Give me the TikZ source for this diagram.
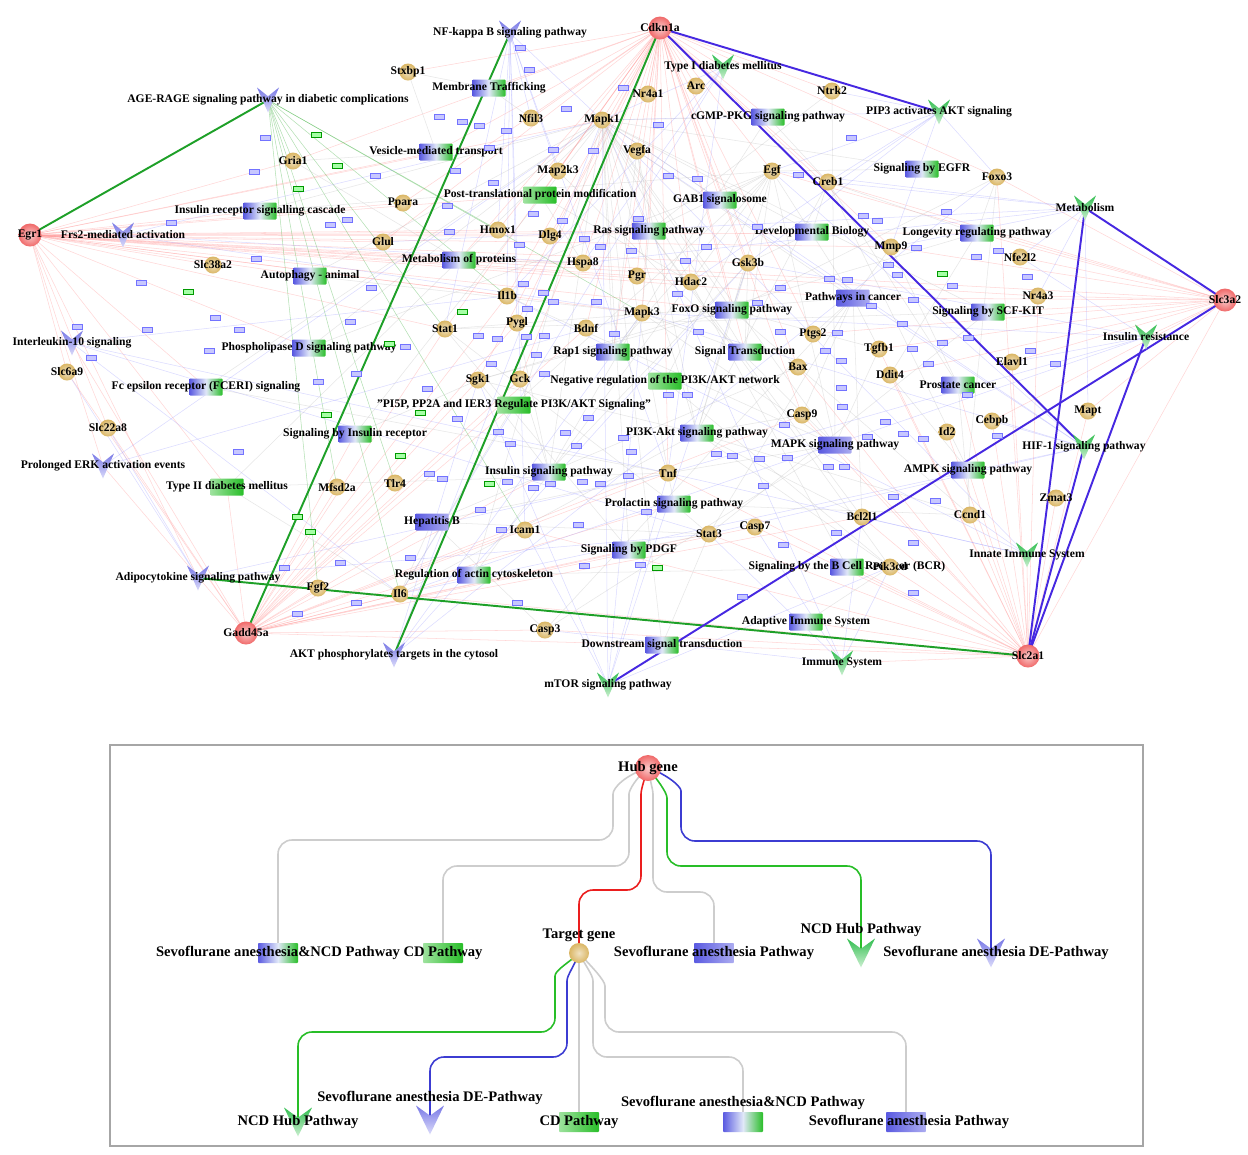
\documentclass[tikz,border=0pt]{standalone}
\usepackage{fontspec}
\setmainfont{Liberation Serif}
\usetikzlibrary{calc,backgrounds}
\definecolor{hubred}{RGB}{240,105,105}
\definecolor{tgold}{RGB}{218,182,100}
\definecolor{pblue}{RGB}{90,90,225}
\definecolor{pmid}{RGB}{225,232,248}
\definecolor{pgreen}{RGB}{40,190,40}
\definecolor{vgtop}{RGB}{50,190,80}
\definecolor{vgbot}{RGB}{205,240,210}
\definecolor{vbtop}{RGB}{120,120,230}
\definecolor{vbbot}{RGB}{220,220,250}
\definecolor{boldgreen}{RGB}{30,160,40}
\definecolor{boldblue}{RGB}{70,40,225}
\definecolor{leggray}{RGB}{205,205,205}
\definecolor{legred}{RGB}{235,30,30}
\definecolor{leggreen}{RGB}{40,190,40}
\definecolor{legblue}{RGB}{60,60,210}
\tikzset{
hub/.style={circle, inner sep=0pt, minimum size=4.6mm, inner color=hubred!35!white, outer color=hubred},
gene/.style={circle, inner sep=0pt, minimum size=3.4mm, inner color=tgold!40!white, outer color=tgold},
pbox/.style={rectangle, rounded corners=0.5pt, inner sep=0pt, minimum width=6.6mm, minimum height=3.4mm},
pbg/.style={pbox, left color=pblue, right color=pgreen, middle color=pmid},
pg/.style={pbox, left color=pgreen!45!white, right color=pgreen},
pb/.style={pbox, left color=pblue, right color=pblue!50!white},
vnode/.style 2 args={rectangle, inner sep=0pt, minimum width=4.4mm, minimum height=5mm,
  path picture={\shade[top color=#1, bottom color=#2]
    (path picture bounding box.north west)
    -- ($(path picture bounding box.north)!0.35!(path picture bounding box.south)$)
    -- (path picture bounding box.north east)
    -- (path picture bounding box.south) -- cycle;}},
vg/.style={vnode={vgtop}{vgbot}},
vb/.style={vnode={vbtop}{vbbot}},
tinyb/.style={rectangle, inner sep=0pt, minimum width=2mm, minimum height=1.1mm, fill=blue!22, draw=blue!55, line width=0.3pt},
tinyg/.style={rectangle, inner sep=0pt, minimum width=2mm, minimum height=1.1mm, fill=green!35, draw=green!60!black, line width=0.3pt},
lbl/.style={font=\bfseries\fontsize{6.6}{7}\selectfont, inner sep=0pt, text=black},
leglbl/.style={font=\bfseries\fontsize{8.3}{9}\selectfont, inner sep=0pt, text=black},
fr/.style={draw=red!40, line width=0.3pt, opacity=0.4},
fb/.style={draw=blue!40, line width=0.3pt, opacity=0.35},
fgy/.style={draw=gray!55, line width=0.3pt, opacity=0.35},
fgr/.style={draw=green!60!black, line width=0.3pt, opacity=0.3},
bgreen/.style={draw=boldgreen, line width=1.1pt},
bblue/.style={draw=boldblue, line width=1.1pt},
lgline/.style={line width=0.9pt, rounded corners=2.8mm},
}
\pgfdeclarelayer{background}
\pgfsetlayers{background,main}

\begin{document}
\begin{tikzpicture}[x=0.2mm, y=-0.2mm]
\begin{pgfonlayer}{background}
\fill[white] (0,0) rectangle (1248,1154);
\end{pgfonlayer}
\useasboundingbox (0,0) rectangle (1248,1154);

% hub genes
\node[hub, label={[lbl]center:Cdkn1a}] (cdkn1a) at (660,28) {};
\node[hub, label={[lbl]center:Egr1}] (egr1) at (30,235) {};
\node[hub, label={[lbl]center:Slc3a2}] (slc3a2) at (1225,300) {};
\node[hub, label={[lbl]center:Slc2a1}] (slc2a1) at (1028,656) {};
\node[hub, label={[lbl]center:Gadd45a}] (gadd45a) at (246,633) {};

% target genes
\node[gene, label={[lbl]center:Stxbp1}] (stxbp1) at (408,72) {};
\node[gene, label={[lbl]center:Gria1}] (gria1) at (293,161) {};
\node[gene, label={[lbl]center:Ppara}] (ppara) at (403,203) {};
\node[gene, label={[lbl]center:Glul}] (glul) at (383,242) {};
\node[gene, label={[lbl]center:Slc38a2}] (slc38a2) at (213,265) {};
\node[gene, label={[lbl]center:Nr4a1}] (nr4a1) at (648,94) {};
\node[gene, label={[lbl]center:Arc}] (arc) at (696,86) {};
\node[gene, label={[lbl]center:Nfil3}] (nfil3) at (531,118) {};
\node[gene, label={[lbl]center:Mapk1}] (mapk1) at (602,120) {};
\node[gene, label={[lbl]center:Vegfa}] (vegfa) at (637,151) {};
\node[gene, label={[lbl]center:Map2k3}] (map2k3) at (558,171) {};
\node[gene, label={[lbl]center:Egf}] (egf) at (772,171) {};
\node[gene, label={[lbl]center:Hmox1}] (hmox1) at (498,230) {};
\node[gene, label={[lbl]center:Dlg4}] (dlg4) at (550,236) {};
\node[gene, label={[lbl]center:Hspa8}] (hspa8) at (583,263) {};
\node[gene, label={[lbl]center:Pgr}] (pgr) at (637,276) {};
\node[gene, label={[lbl]center:Hdac2}] (hdac2) at (691,282) {};
\node[gene, label={[lbl]center:Gsk3b}] (gsk3b) at (748,263) {};
\node[gene, label={[lbl]center:Il1b}] (il1b) at (507,296) {};
\node[gene, label={[lbl]center:Mapk3}] (mapk3) at (642,313) {};
\node[gene, label={[lbl]center:Stat1}] (stat1) at (445,329) {};
\node[gene, label={[lbl]center:Pygl}] (pygl) at (517,323) {};
\node[gene, label={[lbl]center:Bdnf}] (bdnf) at (586,328) {};
\node[gene, label={[lbl]center:Ptgs2}] (ptgs2) at (813,334) {};
\node[gene, label={[lbl]center:Ntrk2}] (ntrk2) at (832,91) {};
\node[gene, label={[lbl]center:Foxo3}] (foxo3) at (997,177) {};
\node[gene, label={[lbl]center:Creb1}] (creb1) at (828,182) {};
\node[gene, label={[lbl]center:Mmp9}] (mmp9) at (891,247) {};
\node[gene, label={[lbl]center:Nfe2l2}] (nfe2l2) at (1020,257) {};
\node[gene, label={[lbl]center:Nr4a3}] (nr4a3) at (1038,296) {};
\node[gene, label={[lbl]center:Tgfb1}] (tgfb1) at (879,349) {};
\node[gene, label={[lbl]center:Elavl1}] (elavl1) at (1012,362) {};
\node[gene, label={[lbl]center:Slc6a9}] (slc6a9) at (67,372) {};
\node[gene, label={[lbl]center:Slc22a8}] (slc22a8) at (108,428) {};
\node[gene, label={[lbl]center:Mfsd2a}] (mfsd2a) at (337,487) {};
\node[gene, label={[lbl]center:Tlr4}] (tlr4) at (395,483) {};
\node[gene, label={[lbl]center:Fgf2}] (fgf2) at (318,588) {};
\node[gene, label={[lbl]center:Il6}] (il6) at (400,594) {};
\node[gene, label={[lbl]center:Sgk1}] (sgk1) at (478,380) {};
\node[gene, label={[lbl]center:Gck}] (gck) at (520,379) {};
\node[gene, label={[lbl]center:Bax}] (bax) at (798,367) {};
\node[gene, label={[lbl]center:Casp9}] (casp9) at (802,415) {};
\node[gene, label={[lbl]center:Tnf}] (tnf) at (668,473) {};
\node[gene, label={[lbl]center:Icam1}] (icam1) at (525,530) {};
\node[gene, label={[lbl]center:Stat3}] (stat3) at (709,534) {};
\node[gene, label={[lbl]center:Casp7}] (casp7) at (755,527) {};
\node[gene, label={[lbl]center:Casp3}] (casp3) at (545,630) {};
\node[gene, label={[lbl]center:Ddit4}] (ddit4) at (890,375) {};
\node[gene, label={[lbl]center:Mapt}] (mapt) at (1088,411) {};
\node[gene, label={[lbl]center:Cebpb}] (cebpb) at (992,421) {};
\node[gene, label={[lbl]center:Id2}] (id2) at (947,432) {};
\node[gene, label={[lbl]center:Zmat3}] (zmat3) at (1056,498) {};
\node[gene, label={[lbl]center:Bcl2l1}] (bcl2l1) at (862,517) {};
\node[gene, label={[lbl]center:Ccnd1}] (ccnd1) at (970,515) {};

% pathways
\node[pbg, label={[lbl]center:Membrane Trafficking}] (membtraf) at (489,88) {};
\node[pbg, label={[lbl]center:Vesicle-mediated transport}] (vesicle) at (436,152) {};
\node[pbg, label={[lbl]center:Insulin receptor signalling cascade}] (insrcasc) at (260,211) {};
\node[pbg, label={[lbl]center:Autophagy - animal}] (autophagy) at (310,276) {};
\node[pbg, label={[lbl]center:Phospholipase D signaling pathway}] (phosphod) at (309,348) {};
\node[pbg, label={[lbl]center:cGMP-PKG signaling pathway}] (cgmp) at (768,117) {};
\node[pg, label={[lbl]center:Post-translational protein modification}] (posttrans) at (540,195) {};
\node[pbg, label={[lbl]center:GAB1 signalosome}] (gab1) at (720,200) {};
\node[pbg, label={[lbl]center:Ras signaling pathway}] (ras) at (649,231) {};
\node[pbg, label={[lbl]center:Developmental Biology}] (devbio) at (812,232) {};
\node[pbg, label={[lbl]center:Metabolism of proteins}] (metprot) at (459,260) {};
\node[pbg, label={[lbl]center:FoxO signaling pathway}] (foxo) at (732,310) {};
\node[pbg, label={[lbl]center:Rap1 signaling pathway}] (rap1) at (613,352) {};
\node[pbg, label={[lbl]center:Signal Transduction}] (sigtrans) at (745,352) {};
\node[pbg, label={[lbl]center:Signaling by EGFR}] (egfr) at (922,169) {};
\node[pbg, label={[lbl]center:Longevity regulating pathway}] (longevity) at (977,233) {};
\node[pb, label={[lbl]center:Pathways in cancer}] (pathcancer) at (853,298) {};
\node[pbg, label={[lbl]center:Signaling by SCF-KIT}] (scfkit) at (988,312) {};
\node[pbg, label={[lbl]center:Fc epsilon receptor (FCERI) signaling}] (fceri) at (206,387) {};
\node[pbg, label={[lbl]center:Signaling by Insulin receptor}] (siginsr) at (355,434) {};
\node[pg, label={[lbl]center:{"PI5P, PP2A and IER3 Regulate PI3K/AKT Signaling"}}] (pi5p) at (514,405) {};
\node[pg, label={[lbl]center:Type II diabetes mellitus}] (typeii) at (227,487) {};
\node[pb, label={[lbl]center:Hepatitis B}] (hepb) at (432,522) {};
\node[pbg, label={[lbl]center:Regulation of actin cytoskeleton}] (actin) at (474,575) {};
\node[pg, label={[lbl]center:Negative regulation of the PI3K/AKT network}] (negreg) at (665,381) {};
\node[pbg, label={[lbl]center:PI3K-Akt signaling pathway}] (pi3k) at (697,433) {};
\node[pb, label={[lbl]center:MAPK signaling pathway}] (mapk) at (835,445) {};
\node[pbg, label={[lbl]center:Insulin signaling pathway}] (inssig) at (549,472) {};
\node[pbg, label={[lbl]center:Prolactin signaling pathway}] (prolactin) at (674,504) {};
\node[pbg, label={[lbl]center:Signaling by PDGF}] (pdgf) at (629,550) {};
\node[pbg, label={[lbl]center:Downstream signal transduction}] (downstream) at (662,645) {};
\node[pbg, label={[lbl]center:Adaptive Immune System}] (adaptive) at (806,622) {};
\node[pbg, label={[lbl]center:Signaling by the B Cell Receptor (BCR)}] (bcr) at (847,567) {};
\node[pbg, label={[lbl]center:Prostate cancer}] (prostate) at (958,385) {};
\node[pbg, label={[lbl]center:AMPK signaling pathway}] (ampk) at (968,470) {};
\node[gene, label={[lbl]center:Pik3cd}] (pik3cd) at (890,567) {};

\node[vb, label={[lbl]center:NF-kappa B signaling pathway}] (nfkb) at (510,33) {};
\node[vb, label={[lbl]center:AGE-RAGE signaling pathway in diabetic complications}] (agerage) at (268,100) {};
\node[vb, label={[lbl]center:Frs2-mediated activation}] (frs2) at (123,235) {};
\node[vb, label={[lbl]center:Interleukin-10 signaling}] (il10) at (72,343) {};
\node[vb, label={[lbl]center:Prolonged ERK activation events}] (erk) at (103,466) {};
\node[vb, label={[lbl]center:Adipocytokine signaling pathway}] (adipo) at (198,578) {};
\node[vb, label={[lbl]center:AKT phosphorylates targets in the cytosol}] (aktphos) at (394,655) {};
\node[vg, label={[lbl]center:Type I diabetes mellitus}] (typei) at (723,67) {};
\node[vg, label={[lbl]center:PIP3 activates AKT signaling}] (pip3) at (939,112) {};
\node[vg, label={[lbl]center:Metabolism}] (metab) at (1085,208) {};
\node[vg, label={[lbl]center:Insulin resistance}] (insres) at (1146,337) {};
\node[vg, label={[lbl]center:HIF-1 signaling pathway}] (hif1) at (1084,447) {};
\node[vg, label={[lbl]center:Innate Immune System}] (innate) at (1027,555) {};
\node[vg, label={[lbl]center:Immune System}] (immune) at (842,663) {};
\node[vg, label={[lbl]center:mTOR signaling pathway}] (mtor) at (608,685) {};

\foreach \x/\y [count=\i] in {265/138,254/172,375/176,347/220,330/225,171/223,256/259,371/288,141/283,215/318,239/330,147/330,350/322,77/327,91/358,209/351,405/347,
  520/48,529/70,623/88,566/109,439/117,462/122,479/126,506/131,489/148,553/150,593/151,658/125,668/176,697/179,798/175,455/171,493/183,447/206,533/214,562/221,638/219,757/227,449/232,519/245,584/239,600/247,631/251,706/247,685/261,780/288,523/284,677/294,543/293,527/309,553/302,596/302,757/303,478/336,497/339,526/337,544/336,614/334,698/332,780/332,
  851/138,863/216,877/221,946/212,916/248,888/265,897/275,829/279,847/280,976/257,998/251,952/286,1027/277,913/300,871/306,902/324,837/333,942/343,968/338,1030/351,
  318/382,356/374,238/452,340/563,284/568,410/558,356/603,297/614,
  536/355,491/364,544/374,427/389,457/419,498/432,510/444,565/433,576/446,588/418,623/438,631/452,668/395,687/395,784/425,716/454,732/456,759/459,787/458,429/474,442/479,507/482,533/488,550/484,582/482,600/484,628/476,763/486,480/510,646/512,578/525,501/530,584/566,640/565,783/545,517/603,742/597,
  825/351,841/361,912/349,928/364,1055/364,841/388,967/395,842/407,885/422,867/437,903/434,923/439,997/436,828/467,844/467,893/497,935/501,836/533,913/543,913/593}
  \node[tinyb] (tb\i) at (\x,\y) {};
\foreach \x/\y [count=\i] in {316/135,337/166,298/189,188/292,389/344,462/312,942/274,326/415,400/456,297/517,310/532,420/413,489/484,657/568}
  \node[tinyg] (tg\i) at (\x,\y) {};

\begin{pgfonlayer}{background}
\foreach \t in {gria1,ppara,glul,slc38a2,insrcasc,frs2,autophagy,metprot,hmox1,dlg4,hspa8,il1b,vesicle,posttrans,ras,mapk1,pgr,hdac2,nr4a3,slc3a2,longevity,pathcancer,foxo,gsk3b,slc6a9,slc22a8,typeii,erk,adipo,phosphod,stat1,mapk3,fceri,mmp9}
  \draw[fr] (egr1.center) -- (\t.center);
\foreach \t in {nr4a1,arc,mapk1,vegfa,map2k3,nfil3,hmox1,dlg4,hspa8,pgr,hdac2,gsk3b,il1b,mapk3,bdnf,pygl,stat1,egf,creb1,ntrk2,membtraf,stxbp1,gria1,vesicle,glul,ppara,posttrans,ras,gab1,rap1,sigtrans,foxo,bax,casp9,tnf,ptgs2,mmp9,foxo3,typei,cgmp,metprot,sgk1,gck}
  \draw[fr] (cdkn1a.center) -- (\t.center);
\foreach \t in {fgf2,il6,icam1,tlr4,mfsd2a,casp3,tnf,stat3,sgk1,gck,hepb,actin,inssig,pdgf,slc22a8,slc6a9,il10,erk,typeii,casp7,downstream,bcl2l1,prolactin,siginsr,pi5p,stat1,pygl,bdnf,il1b,casp9}
  \draw[fr] (gadd45a.center) -- (\t.center);
\foreach \t in {bcl2l1,ccnd1,casp7,stat3,zmat3,pik3cd,casp9,cebpb,id2,tgfb1,ddit4,mapt,elavl1,innate,immune,adaptive,bcr,ampk,mapk,prostate,casp3,icam1,tnf,downstream,foxo3,nr4a3,bax,il6,slc3a2}
  \draw[fr] (slc2a1.center) -- (\t.center);
\foreach \t in {nr4a3,nfe2l2,foxo3,mmp9,elavl1,tgfb1,pathcancer,scfkit,longevity,insres,mapt,cebpb,ptgs2,ddit4,egf,creb1}
  \draw[fr] (slc3a2.center) -- (\t.center);
\foreach \t in {fgf2,il6,stat1,il1b,mapk3,hmox1,gria1,tlr4,mfsd2a,icam1}
  \draw[fgr] (agerage.center) -- (\t.center);
\foreach \p/\l in {nfkb/{mapk1,hmox1,il1b,stat1,tnf,map2k3,pygl,nfil3,icam1},frs2/{mapk1,mapk3,hspa8},il10/{il6,tnf,il1b,stat3},erk/{mapk1,mapk3},adipo/{tnf,stat3,slc22a8,slc6a9},aktphos/{gsk3b,sgk1,mapk1,foxo3,mapk3},typei/{tnf,il1b,hspa8,il6,mapk1},pip3/{creb1,foxo3,egf,gsk3b,mapk1,ntrk2,mmp9,hdac2},metab/{mmp9,nr4a3,nfe2l2,glul,egf,creb1,mapt,hspa8},insres/{tnf,il6,gsk3b,elavl1,mapk3,nfe2l2},hif1/{vegfa,stat3,egf,mapk3,il6,mapk1,cebpb},innate/{mapk1,bcl2l1,ccnd1,tnf,il1b},immune/{bcl2l1,pik3cd,casp3,stat3,mapk1,casp7},mtor/{mapk1,mapk3,sgk1,gsk3b,tnf,pik3cd,icam1}}
  \foreach \t in \l \draw[fb] (\p.center) -- (\t.center);
\foreach \p/\l in {pi3k/{mapk1,egf,vegfa,creb1,gsk3b,il6,casp9,bcl2l1,ccnd1,pik3cd,sgk1},mapk/{mapk1,mapk3,tnf,il1b,egf,casp3,map2k3,ntrk2,tgfb1},inssig/{mapk1,mapk3,gsk3b,pygl,gck,sgk1},prolactin/{stat3,stat1,mapk1,ccnd1},foxo/{foxo3,sgk1,gsk3b,mapk1,ccnd1,tgfb1},ras/{mapk1,mapk3,egf,vegfa,ntrk2,pik3cd,bcl2l1},rap1/{mapk1,egf,vegfa,mapk3},longevity/{foxo3,creb1,ddit4,sgk1},ampk/{ccnd1,creb1,foxo3,ddit4},pathcancer/{egf,mmp9,ptgs2,bcl2l1,stat3,stat1,vegfa,tgfb1,casp3,casp9},prostate/{creb1,ccnd1,mmp9},devbio/{creb1,mapk1,gsk3b},sigtrans/{mapk1,mapk3,egf,gsk3b},cgmp/{creb1,mapk1,mapk3},egfr/{egf,mapk1},scfkit/{mapk1,stat3,stat1},hepb/{tnf,il6,stat3,casp3,bax},actin/{mapk1,pik3cd,egf},pdgf/{stat3,stat1,mapk1},downstream/{mapk1,stat3},adaptive/{pik3cd},bcr/{pik3cd,mapk1},negreg/{pik3cd,egf},pi5p/{il6,egf},siginsr/{mapk1,sgk1},fceri/{mapk1,tnf},typeii/{mapk1,tnf,il6},phosphod/{mapk1,egf},gab1/{egf,mapk1},membtraf/{stxbp1,nfil3},vesicle/{stxbp1,gria1},metprot/{hspa8,gria1},posttrans/{hspa8,hdac2},autophagy/{mapk1,mapk3},insrcasc/{mapk1,egf}}
  \foreach \t in \l \draw[fgy] (\p.center) -- (\t.center);

\foreach \a/\b in {egr1/agerage,gadd45a/nfkb,adipo/slc2a1,aktphos/cdkn1a}
  \draw[bgreen] (\a.center) -- (\b.center);
\foreach \a/\b in {cdkn1a/pip3,cdkn1a/hif1,metab/slc3a2,metab/slc2a1,slc3a2/mtor,slc2a1/insres,slc2a1/hif1}
  \draw[bblue] (\a.center) -- (\b.center);
\end{pgfonlayer}

% legend
\draw[draw=gray!70, line width=0.8pt] (110,745) rectangle (1143,1146);
\node[hub, minimum size=5.2mm, label={[leglbl]center:Hub gene}] (hubg) at (648,768) {};
\node[gene, minimum size=4mm, label={[leglbl, yshift=3.6mm]center:Target gene}] (targ) at (579,953) {};
\node[pbg, minimum width=8mm, minimum height=4mm, label={[leglbl]center:Sevoflurane anesthesia\&NCD Pathway}] (lsevncdA) at (278,953) {};
\node[pg, minimum width=8mm, minimum height=4mm, label={[leglbl]center:CD Pathway}] (lcdA) at (443,953) {};
\node[pb, minimum width=8mm, minimum height=4mm, label={[leglbl]center:Sevoflurane anesthesia Pathway}] (lsevA) at (714,953) {};
\node[vg, minimum width=5.6mm, minimum height=5.8mm, label={[leglbl, yshift=4.6mm]center:NCD Hub Pathway}] (lncdA) at (861,953) {};
\node[vb, minimum width=5.6mm, minimum height=5.8mm, label={[leglbl, xshift=1mm]center:Sevoflurane anesthesia DE-Pathway}] (ldeA) at (991,953) {};
\node[vg, minimum width=5.6mm, minimum height=5.8mm, label={[leglbl]center:NCD Hub Pathway}] (lncdB) at (298,1122) {};
\node[vb, minimum width=5.6mm, minimum height=5.8mm, label={[leglbl, yshift=4.4mm]center:Sevoflurane anesthesia DE-Pathway}] (ldeB) at (430,1120) {};
\node[pg, minimum width=8mm, minimum height=4mm, label={[leglbl]center:CD Pathway}] (lcdB) at (579,1122) {};
\node[pbg, minimum width=8mm, minimum height=4mm, label={[leglbl, yshift=3.8mm]center:Sevoflurane anesthesia\&NCD Pathway}] (lsevncdB) at (743,1122) {};
\node[pb, minimum width=8mm, minimum height=4mm, label={[leglbl, xshift=0.6mm]center:Sevoflurane anesthesia Pathway}] (lsevB) at (906,1122) {};

\begin{pgfonlayer}{background}
\draw[lgline, leggray] (hubg.center) .. controls (625,775) and (613,788) .. (613,808) -- (613,840) -| (lsevncdA.center);
\draw[lgline, leggray] (hubg.center) .. controls (636,778) and (629,790) .. (629,808) -- (629,866) -| (lcdA.center);
\draw[lgline, legred] (hubg.center) .. controls (644,780) and (641,790) .. (641,808) -- (641,890) -| (targ.center);
\draw[lgline, leggray] (hubg.center) .. controls (650,780) and (653,790) .. (653,808) -- (653,892) -| (lsevA.center);
\draw[lgline, leggreen] (hubg.center) .. controls (656,778) and (667,792) .. (667,812) -- (667,866) -| (lncdA.center);
\draw[lgline, legblue] (hubg.center) .. controls (662,772) and (681,785) .. (681,805) -- (681,841) -| (ldeA.center);
\draw[lgline, leggreen] (targ.center) .. controls (570,962) and (555,970) .. (555,990) -- (555,1032) -| (lncdB.center);
\draw[lgline, legblue] (targ.center) .. controls (575,965) and (567,975) .. (567,995) -- (567,1057) -| (ldeB.center);
\draw[lgline, leggray] (targ.center) -- (lcdB.center);
\draw[lgline, leggray] (targ.center) .. controls (585,965) and (593,975) .. (593,995) -- (593,1057) -| (lsevncdB.center);
\draw[lgline, leggray] (targ.center) .. controls (590,965) and (605,980) .. (605,1000) -- (605,1032) -| (lsevB.center);
\end{pgfonlayer}
\end{tikzpicture}
\end{document}
